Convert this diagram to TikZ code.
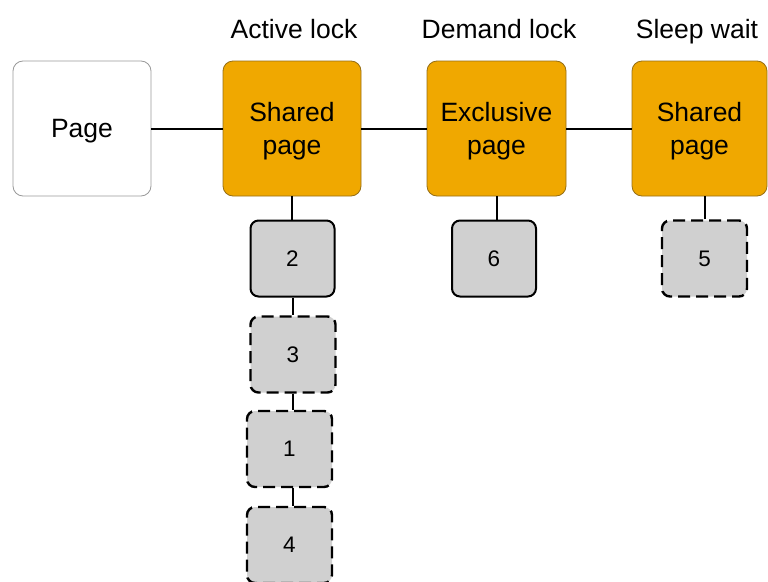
\documentclass[tikz,border=0pt]{standalone}
\usepackage{fontspec}
\setmainfont{Liberation Sans}
\definecolor{lockorange}{RGB}{240,168,0}
\definecolor{lockedge}{RGB}{150,110,20}
\definecolor{waitgray}{RGB}{208,208,208}
\newcommand{\lowerstrut}{\rule{0pt}{24pt}}
\begin{document}
\begin{tikzpicture}[x=1pt,y=-1pt,
  bigbox/.style={rectangle,rounded corners=10pt,minimum width=138pt,minimum height=135pt,inner sep=0pt,align=center,font=\fontsize{26.5}{33}\selectfont},
  pagebox/.style={bigbox,draw=gray!80,fill=white,line width=0.8pt},
  lockbox/.style={bigbox,draw=lockedge,fill=lockorange,line width=0.8pt},
  reqbox/.style={rectangle,rounded corners=8pt,minimum width=84pt,minimum height=76pt,inner sep=0pt,draw=black,fill=waitgray,line width=2pt,font=\fontsize{22.5}{26}\selectfont},
  waitbox/.style={reqbox,line width=2.4pt,dash pattern=on 12pt off 6pt},
  title/.style={anchor=base,font=\fontsize{26.5}{32}\selectfont},
  link/.style={draw=black,line width=2pt}]
\useasboundingbox (0,0) rectangle (768,581);
\node[pagebox] (page) at (82,128.5) {\lowerstrut Page};
\node[lockbox] (sp1) at (292,128.5) {\lowerstrut Shared\\page};
\node[lockbox,minimum width=139pt] (ex) at (496.5,128.5) {\lowerstrut Exclusive\\page};
\node[lockbox,minimum width=135pt] (sp2) at (699.5,128.5) {\lowerstrut Shared\\page};
\node[title] (t1) at (294,38) {Active lock};
\node[title] (t2) at (499,38) {Demand lock};
\node[title] (t3) at (697,38) {Sleep wait};
\node[reqbox] (b2) at (292.5,258.5) {2};
\node[reqbox] (b6) at (494,258.5) {6};
\node[waitbox,minimum width=85pt] (b5) at (704.5,258.5) {5};
\node[waitbox,minimum width=85pt] (b3) at (293,354.5) {3};
\node[waitbox,minimum width=85pt] (b1) at (289.5,449) {1};
\node[waitbox,minimum width=85pt] (b4) at (289.5,545) {4};
\draw[link] (page.east) -- (sp1.west);
\draw[link] (sp1.east) -- (ex.west);
\draw[link] (ex.east) -- (sp2.west);
\draw[link] (sp1.south) -- (sp1.south |- b2.north);
\draw[link] (ex.south) -- (ex.south |- b6.north);
\draw[link] (b5.north) -- (b5.north |- sp2.south);
\draw[link] (b2.south) -- (b2.south |- b3.north);
\draw[link] (b2.south |- b3.south) -- (b2.south |- b1.north);
\draw[link] (b2.south |- b1.south) -- (b2.south |- b4.north);
\end{tikzpicture}
\end{document}
